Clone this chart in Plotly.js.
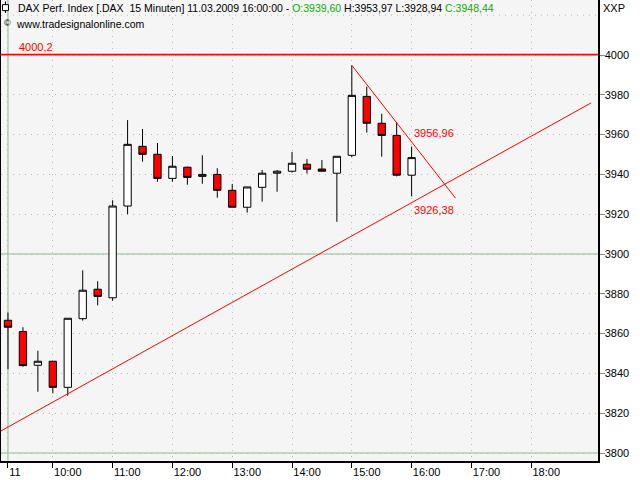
<!DOCTYPE html>
<html>
<head>
<meta charset="utf-8">
<script src="https://cdn.plot.ly/plotly-3.0.1.min.js"></script>
<style>html,body{margin:0;padding:0;background:#fff;}#chart{width:640px;height:480px;}</style>
</head>
<body>
<div id="chart"></div>
<script>
// ---- data (15-minute bars, DAX, 11.03.2009) ----
const times = ['09:15','09:30','09:45','10:00','10:15','10:30','10:45','11:00','11:15','11:30','11:45','12:00','12:15','12:30','12:45','13:00','13:15','13:30','13:45','14:00','14:15','14:30','14:45','15:00','15:15','15:30','15:45','16:00'];
const openV  = [3866.7,3861.0,3844.1,3846.1,3833.0,3867.5,3882.3,3878.0,3924.1,3954.1,3950.1,3938.0,3943.6,3939.0,3940.0,3932.0,3923.5,3933.5,3940.6,3941.6,3945.1,3942.7,3940.6,3949.6,3979.2,3965.7,3959.6,3939.60];
const highV  = [3870.5,3863.2,3851.4,3846.1,3867.7,3891.8,3886.3,3927.0,3967.3,3962.8,3955.8,3949.2,3943.9,3949.6,3943.1,3935.2,3933.7,3942.2,3942.2,3951.3,3947.7,3947.2,3949.1,3994.8,3984.1,3970.5,3966.2,3953.97];
const lowV   = [3842.1,3843.4,3830.8,3830.0,3828.8,3866.5,3874.2,3876.5,3920.0,3946.4,3936.3,3936.3,3934.8,3935.3,3928.3,3923.5,3920.8,3926.3,3931.3,3940.9,3940.4,3941.6,3916.2,3948.6,3961.0,3948.9,3939.0,3928.94];
const closeV = [3863.2,3843.9,3846.1,3833.0,3867.7,3881.8,3878.7,3924.1,3955.1,3950.1,3938.0,3944.1,3938.5,3940.0,3932.0,3923.5,3933.7,3940.6,3941.6,3945.6,3942.6,3941.6,3949.1,3979.7,3965.7,3959.6,3939.6,3948.44];

// trend lines (time, value)
const downTimes = ['15:00','16:44'];
const downVals  = [3994.8, 3928.1];
const upTimes   = ['09:08','19:00'];
const upVals    = [3811.1, 3975.9];
const resistance = 4000.2;
const downLabel = '3956,96', downLabelVal = 3956.96;
const upLabel   = '3926,38', upLabelVal = 3926.38;
const labelTime = '16:00';

// axis ticks
const xTickTimes  = ['09:15','10:00','11:00','12:00','13:00','14:00','15:00','16:00','17:00','18:00'];
const xTickLabels = ['11','10:00','11:00','12:00','13:00','14:00','15:00','16:00','17:00','18:00'];
const yTicks = [3800,3820,3840,3860,3880,3900,3920,3940,3960,3980,4000];
const ySolid = [3800,3900,4000];
const yExtraDotted = [4020];
const xRangeTimes = ['09:08','19:07'];
const yRange = [3795.98, 4027.64];

// bar slot index (15-minute slots from 09:15)
function slot(t){ const [h,m]=t.split(':').map(Number); return (h*60+m-(9*60+15))/15; }

const X = times.map(slot);
const xr = [slot(xRangeTimes[0]) + 0.0, slot(xRangeTimes[1]) + 0.0];

const traces = [
  {
    type:'candlestick', x:X, open:openV, high:highV, low:lowV, close:closeV,
    increasing:{line:{color:'#000000',width:1}, fillcolor:'#ffffff'},
    decreasing:{line:{color:'#000000',width:1}, fillcolor:'#ff0000'},
    whiskerwidth:0, hoverinfo:'skip', showlegend:false
  },
  { type:'scatter', mode:'lines', x:downTimes.map(slot), y:downVals, line:{color:'#ff0000',width:1}, hoverinfo:'skip', showlegend:false },
  { type:'scatter', mode:'lines', x:upTimes.map(slot), y:upVals, line:{color:'#ff0000',width:1}, hoverinfo:'skip', showlegend:false }
];

const gridCol = '#a9c2a9';
const solidCol = '#b3cbb3';
const shapes = [];
ySolid.forEach(v=>shapes.push({type:'line', layer:'below', xref:'paper', x0:0, x1:1, yref:'y', y0:v, y1:v, line:{color:solidCol,width:1.5}}));
yExtraDotted.forEach(v=>shapes.push({type:'line', layer:'below', xref:'paper', x0:0, x1:1, yref:'y', y0:v, y1:v, line:{color:gridCol,width:1,dash:'1px,5px'}}));
shapes.push({type:'line', layer:'below', xref:'x', x0:slot(xTickTimes[0]), x1:slot(xTickTimes[0]), yref:'paper', y0:0, y1:1, line:{color:solidCol,width:1.5}});
shapes.push({type:'line', layer:'above', xref:'paper', x0:0, x1:1, yref:'y', y0:resistance, y1:resistance, line:{color:'#ff0000',width:1.5}});
// small header icon (candle glyph)
shapes.push({type:'line', xref:'paper', yref:'paper', x0:0.0075, x1:0.0075, y0:0.972, y1:0.997, line:{color:'#000',width:1}});
shapes.push({type:'rect', xref:'paper', yref:'paper', x0:0.0025, x1:0.0125, y0:0.977, y1:0.99, fillcolor:'#fff', line:{color:'#000',width:1}});

const fnt = 'Liberation Sans, Arial, sans-serif';
const annotations = [
  {xref:'paper', yref:'paper', x:0.025, y:0.999, xanchor:'left', yanchor:'top', showarrow:false,
   font:{family:fnt,size:10.5,color:'#000'},
   text:'DAX Perf. Index [.DAX&nbsp;&nbsp;15 Minuten] 11.03.2009 16:00:00 - <span style="color:#00b000">O:3939,60</span> H:3953,97 L:3928,94 <span style="color:#00b000">C:3948,44</span>'},
  {xref:'paper', yref:'paper', x:0.002, y:0.965, xanchor:'left', yanchor:'top', showarrow:false,
   font:{family:fnt,size:9,color:'#000'}, text:'\u00a9'},
  {xref:'paper', yref:'paper', x:0.022, y:0.965, xanchor:'left', yanchor:'top', showarrow:false,
   font:{family:fnt,size:10.5,color:'#000'}, text:'www.tradesignalonline.com'},
  {xref:'paper', yref:'paper', x:1.005, y:1.0, xanchor:'left', yanchor:'top', showarrow:false,
   font:{family:fnt,size:11,color:'#000'}, text:'XXP'},
  {xref:'paper', yref:'y', x:0.026, y:resistance, xanchor:'left', yanchor:'bottom', showarrow:false,
   font:{family:fnt,size:11,color:'#ff0000'}, text:'4000,2'},
  {xref:'x', yref:'y', x:slot(labelTime), y:downLabelVal, xanchor:'left', yanchor:'bottom', showarrow:false,
   font:{family:fnt,size:11,color:'#ff0000'}, text:downLabel},
  {xref:'x', yref:'y', x:slot(labelTime), y:upLabelVal, xanchor:'left', yanchor:'top', showarrow:false,
   font:{family:fnt,size:11,color:'#ff0000'}, text:upLabel}
];

const layout = {
  width:640, height:480,
  margin:{l:1, r:42, t:0, b:19, pad:0},
  paper_bgcolor:'#ffffff', plot_bgcolor:'#f5f5f5',
  showlegend:false,
  font:{family:fnt, size:11, color:'#000'},
  xaxis:{
    range:xr, type:'linear', rangeslider:{visible:false},
    tickmode:'array', tickvals:xTickTimes.map(slot), ticktext:xTickLabels,
    ticks:'outside', ticklen:5, tickcolor:'#000', tickwidth:1,
    ticklabelposition:'outside right',
    showgrid:true, gridcolor:gridCol, gridwidth:1, griddash:'1px,5px',
    zeroline:false, showline:true, linecolor:'#000', linewidth:1.5, mirror:true,
    tickfont:{family:fnt,size:11,color:'#000'}, fixedrange:true
  },
  yaxis:{
    range:yRange, side:'right',
    tickmode:'array', tickvals:yTicks, ticktext:yTicks.map(String),
    ticks:'outside', ticklen:5, tickcolor:'#888', tickwidth:1,
    ticklabelstandoff:-2,
    showgrid:true, gridcolor:gridCol, gridwidth:1, griddash:'1px,5px',
    zeroline:false, showline:true, linecolor:'#000', linewidth:1.5, mirror:true,
    tickfont:{family:fnt,size:11,color:'#000'}, fixedrange:true
  },
  shapes:shapes, annotations:annotations
};

Plotly.newPlot('chart', traces, layout, {staticPlot:true, displayModeBar:false});
</script>
</body>
</html>
